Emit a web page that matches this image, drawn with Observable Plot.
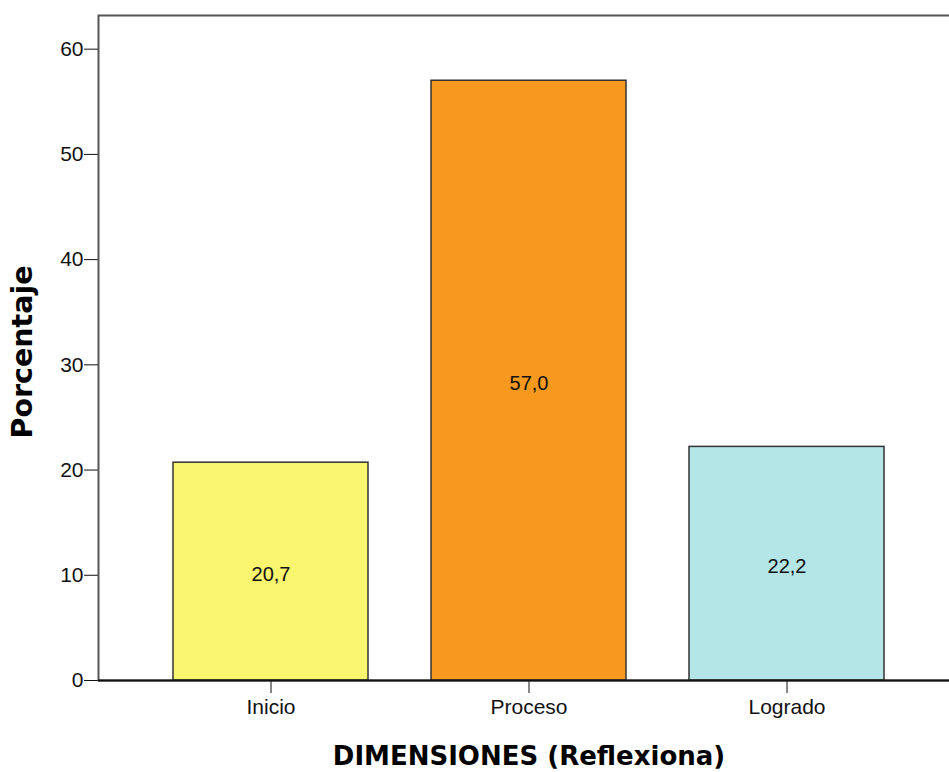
<!DOCTYPE html>
<html>
<head>
<meta charset="utf-8">
<script src="https://cdn.jsdelivr.net/npm/d3@7"></script>
<script src="https://cdn.jsdelivr.net/npm/@observablehq/plot@0.6"></script>
<style>
  html, body { margin: 0; padding: 0; background: #fff; overflow: hidden; }
</style>
</head>
<body>
<div id="chart"></div>
<script>
const categories = ["Inicio", "Proceso", "Logrado"];
const percentages = [20.7, 57.0, 22.2];
const barColors = ["#f9f56e", "#f7991e", "#b4e5e7"];
const yTicks = [0, 10, 20, 30, 40, 50, 60];
const xTitle = "DIMENSIONES (Reflexiona)";
const yTitle = "Porcentaje";

const data = categories.map((c, i) => ({cat: c, value: percentages[i]}));
const fmt = v => v.toFixed(1).replace(".", ",");

const chart = Plot.plot({
  width: 949,
  height: 772,
  marginTop: 15,
  marginBottom: 92,
  marginLeft: 98,
  marginRight: -10,
  style: {fontFamily: "'Liberation Sans', Arial, sans-serif", fontSize: "21px", color: "#111", background: "#fff"},
  x: {domain: categories, paddingInner: 0.246, paddingOuter: 0.2885, tickSize: 13, tickPadding: 6, label: null},
  y: {domain: [0, 63.2], ticks: yTicks, tickSize: 14, tickPadding: 1, label: null},
  color: {domain: categories, range: barColors},
  marks: [
    Plot.frame({stroke: "#555", strokeWidth: 2}),
    Plot.barY(data, {x: "cat", y: "value", fill: "cat", stroke: "#333", strokeWidth: 1.5}),
    Plot.text(data, {x: "cat", y: d => d.value / 2, text: d => fmt(d.value), fontSize: 20, dy: 3, fill: "#111"}),
    Plot.ruleY([0], {stroke: "#111", strokeWidth: 2}),
    Plot.text([yTitle], {frameAnchor: "left", textAnchor: "middle", rotate: -90, dx: -76, dy: 4, fontSize: 28.5, fontWeight: "bold", fontFamily: "'DejaVu Sans', sans-serif", fill: "#000"}),
    Plot.text([xTitle], {frameAnchor: "bottom", dy: 84, fontSize: 26, fontWeight: "bold", fontFamily: "'DejaVu Sans', sans-serif", fill: "#000"})
  ]
});
document.getElementById("chart").appendChild(chart);
</script>
</body>
</html>
